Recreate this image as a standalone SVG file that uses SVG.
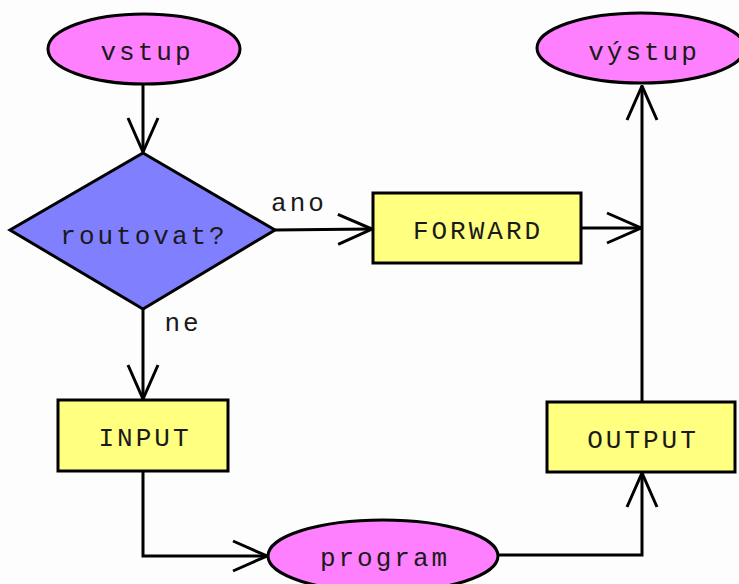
<svg xmlns="http://www.w3.org/2000/svg" width="739" height="584" viewBox="0 0 739 584">
  <style>
    .term { fill: #ff80ff; stroke: #000; stroke-width: 3; }
    .proc { fill: #ffff80; stroke: #000; stroke-width: 3; }
    .dec { fill: #8080ff; stroke: #000; stroke-width: 3; }
    .lbl { font-family: "Liberation Mono", "Courier New", monospace; font-size: 26px; letter-spacing: 3px; fill: #1a1a1a; text-anchor: middle; }
    .edge { fill: none; stroke: #000; stroke-width: 3; stroke-linejoin: miter; }
  </style>
  <defs>
    <marker id="open" viewBox="0 0 36 34" refX="35" refY="17" markerWidth="36" markerHeight="34" markerUnits="userSpaceOnUse" orient="auto">
      <path d="M1 2 L35 17 L1 32" fill="none" stroke="#000" stroke-width="3"/>
    </marker>
  </defs>
  <rect width="739" height="584" fill="#fdfdfd"/>

  <g id="connectors">
    <path class="edge" d="M143 85 L143 152" marker-end="url(#open)"/>
    <path class="edge" d="M275 230 L372 229" marker-end="url(#open)"/>
    <path class="edge" d="M581 228 L641 228" marker-end="url(#open)"/>
    <path class="edge" d="M143 309 L143 399" marker-end="url(#open)"/>
    <path class="edge" d="M143 471 L143 556 L267 556" marker-end="url(#open)"/>
    <path class="edge" d="M498 555 L642 555 L642 473" marker-end="url(#open)"/>
    <path class="edge" d="M642 402 L642 86" marker-end="url(#open)"/>
    <text class="lbl" x="299" y="211">ano</text>
    <text class="lbl" x="183" y="331">ne</text>
  </g>

  <g id="vstup">
    <ellipse class="term" cx="144" cy="49" rx="96" ry="35"/>
    <text class="lbl" x="147" y="60">vstup</text>
  </g>

  <g id="routovat">
    <polygon class="dec" points="143,153 275,230 143,309 10,230"/>
    <text class="lbl" x="144" y="244">routovat?</text>
  </g>

  <g id="forward">
    <rect class="proc" x="373" y="193" width="208" height="70"/>
    <text class="lbl" x="478" y="239">FORWARD</text>
  </g>

  <g id="vystup">
    <ellipse class="term" cx="641" cy="48" rx="104" ry="35"/>
    <text class="lbl" x="644" y="60">výstup</text>
  </g>

  <g id="input">
    <rect class="proc" x="58" y="400" width="170" height="71"/>
    <text class="lbl" x="145" y="446">INPUT</text>
  </g>

  <g id="output">
    <rect class="proc" x="547" y="402" width="188" height="70"/>
    <text class="lbl" x="643" y="448">OUTPUT</text>
  </g>

  <g id="program">
    <ellipse class="term" cx="383" cy="556" rx="115" ry="36"/>
    <text class="lbl" x="385" y="566">program</text>
  </g>
</svg>
